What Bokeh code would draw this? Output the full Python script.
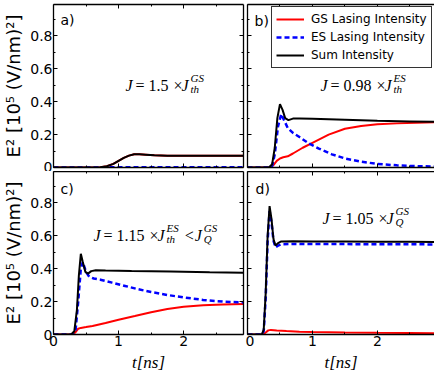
from bokeh.plotting import figure
from bokeh.models import LinearAxis, FixedTicker, Label, Legend, LegendItem, Range1d, CustomJSTickFormatter
from bokeh.layouts import gridplot
from bokeh.embed import file_html
from bokeh.resources import INLINE

# ---- time traces (t in ns, E^2 in 10^5 (V/nm)^2) ----
# a) J = 1.5 x J_th^GS
t_gs_a = [0, 0.60, 0.72, 0.82, 0.92, 1.00, 1.08, 1.16, 1.24, 1.32, 1.42, 1.55, 1.75, 2.0, 2.5, 2.92]
gs_a = [0, 0, 0.002, 0.008, 0.022, 0.040, 0.058, 0.072, 0.080, 0.081, 0.078, 0.074, 0.072, 0.072, 0.072, 0.072]
t_es_a = [0, 1.0, 2.0, 2.92]
es_a = [0, 0.001, 0.001, 0.001]
t_sum_a = t_gs_a
sum_a = [0, 0, 0.002, 0.008, 0.022, 0.040, 0.058, 0.072, 0.080, 0.081, 0.078, 0.074, 0.072, 0.072, 0.072, 0.072]

# b) J = 0.98 x J_th^ES
t_gs_b = [0, 0.35, 0.40, 0.45, 0.50, 0.55, 0.62, 0.70, 0.85, 1.0, 1.25, 1.5, 1.75, 2.0, 2.3, 2.6, 2.92]
gs_b = [0, 0, 0.015, 0.040, 0.055, 0.062, 0.068, 0.085, 0.120, 0.150, 0.200, 0.235, 0.252, 0.262, 0.268, 0.272, 0.275]
t_es_b = [0, 0.34, 0.38, 0.42, 0.47, 0.52, 0.56, 0.62, 0.70, 0.80, 0.95, 1.1, 1.3, 1.5, 1.75, 2.0, 2.3, 2.6, 2.92]
es_b = [0, 0, 0.010, 0.080, 0.250, 0.325, 0.290, 0.240, 0.210, 0.185, 0.145, 0.115, 0.080, 0.055, 0.035, 0.022, 0.013, 0.008, 0.006]
t_sum_b = [0, 0.33, 0.38, 0.42, 0.46, 0.50, 0.54, 0.58, 0.63, 0.70, 0.80, 1.0, 1.5, 2.0, 2.5, 2.92]
sum_b = [0, 0, 0.020, 0.120, 0.300, 0.385, 0.350, 0.300, 0.288, 0.297, 0.298, 0.296, 0.290, 0.284, 0.280, 0.277]

# c) J = 1.15 x J_th^ES < J_Q^GS
t_gs_c = [0, 0.30, 0.34, 0.38, 0.42, 0.50, 0.60, 0.80, 1.0, 1.25, 1.5, 1.75, 2.0, 2.3, 2.6, 2.92]
gs_c = [0, 0, 0.015, 0.035, 0.040, 0.045, 0.052, 0.070, 0.090, 0.112, 0.135, 0.155, 0.168, 0.177, 0.182, 0.185]
t_es_c = [0, 0.29, 0.34, 0.38, 0.42, 0.45, 0.50, 0.55, 0.62, 0.72, 0.90, 1.1, 1.3, 1.5, 1.75, 2.0, 2.3, 2.6, 2.92]
es_c = [0, 0, 0.030, 0.200, 0.400, 0.440, 0.380, 0.350, 0.340, 0.333, 0.315, 0.295, 0.275, 0.258, 0.240, 0.225, 0.210, 0.200, 0.195]
t_sum_c = [0, 0.27, 0.32, 0.36, 0.39, 0.42, 0.45, 0.49, 0.53, 0.58, 0.65, 0.80, 1.2, 1.8, 2.4, 2.92]
sum_c = [0, 0, 0.020, 0.150, 0.360, 0.490, 0.440, 0.380, 0.370, 0.385, 0.390, 0.388, 0.385, 0.382, 0.378, 0.375]

# d) J = 1.05 x J_Q^GS
t_gs_d = [0, 0.24, 0.28, 0.32, 0.36, 0.45, 0.60, 0.80, 1.0, 1.5, 2.0, 2.5, 2.88]
gs_d = [0, 0, 0.012, 0.025, 0.028, 0.025, 0.021, 0.017, 0.015, 0.012, 0.010, 0.009, 0.008]
t_es_d = [0, 0.22, 0.25, 0.28, 0.31, 0.34, 0.37, 0.40, 0.43, 0.47, 0.52, 0.70, 1.0, 1.5, 2.0, 2.5, 2.88]
es_d = [0, 0, 0.020, 0.220, 0.570, 0.750, 0.680, 0.570, 0.530, 0.540, 0.548, 0.550, 0.549, 0.549, 0.548, 0.548, 0.547]
t_sum_d = t_es_d
sum_d = [0, 0, 0.030, 0.250, 0.600, 0.780, 0.700, 0.580, 0.540, 0.555, 0.565, 0.566, 0.565, 0.565, 0.564, 0.563, 0.562]

x_ticks = [0, 1, 2]
x_minor = [0.5, 1.5, 2.5]
y_ticks = [0.0, 0.2, 0.4, 0.6, 0.8]
y_minor = [0.1, 0.3, 0.5, 0.7, 0.9]
y_max = 0.99

legend_labels = ["GS Lasing Intensity", "ES Lasing Intensity", "Sum Intensity"]

# Times-like advance widths (em) used to lay out the formula pieces
SERIF_W = {"0": 0.5, "1": 0.5, "2": 0.5, "3": 0.5, "4": 0.5, "5": 0.5,
           "6": 0.5, "7": 0.5, "8": 0.5, "9": 0.5, ".": 0.25}

FRAME_H = 163
BLANK = CustomJSTickFormatter(code="return ''")


def style_axis(ax, ticks, minor, labels, line=True):
    ax.ticker = FixedTicker(ticks=ticks, minor_ticks=minor)
    ax.major_tick_in = 4
    ax.major_tick_out = 0
    ax.minor_tick_in = 2
    ax.minor_tick_out = 0
    ax.major_tick_line_color = "black"
    ax.minor_tick_line_color = "black"
    ax.axis_line_color = "black" if line else None
    ax.axis_line_width = 1.3
    if labels:
        ax.major_label_text_font = "DejaVu Sans"
        ax.major_label_text_font_size = "14px"
        ax.major_label_text_color = "black"
        ax.major_label_standoff = 1
    else:
        ax.formatter = BLANK
        ax.major_label_text_font_size = "0px"
        ax.major_label_standoff = 0


def make_panel(x_end, frame_w, left_lab, bottom_lab, right_line, borders):
    bl, br, bt, bb = borders
    p = figure(frame_width=frame_w, frame_height=FRAME_H,
               x_range=Range1d(0, x_end), y_range=Range1d(0, y_max),
               x_axis_location=None, y_axis_location=None,
               output_backend="svg", toolbar_location=None,
               min_border_left=bl, min_border_right=br,
               min_border_top=bt, min_border_bottom=bb)
    p.outline_line_color = None
    p.grid.visible = False
    p.background_fill_color = "white"
    p.border_fill_color = "white"

    left = LinearAxis()
    style_axis(left, y_ticks, y_minor, left_lab)
    if left_lab:
        left.axis_label = "E² [10⁵ (V/nm)²]"
        left.axis_label_text_font = "DejaVu Sans"
        left.axis_label_text_font_size = "18px"
        left.axis_label_text_font_style = "normal"
        left.axis_label_text_color = "black"
        left.axis_label_standoff = 3
    p.add_layout(left, "left")

    bottom = LinearAxis()
    style_axis(bottom, x_ticks, x_minor, bottom_lab)
    if bottom_lab:
        bottom.axis_label = "t[ns]"
        bottom.axis_label_text_font = "Liberation Serif"
        bottom.axis_label_text_font_size = "17px"
        bottom.axis_label_text_font_style = "italic"
        bottom.axis_label_text_color = "black"
        bottom.axis_label_standoff = 4
    p.add_layout(bottom, "below")

    top = LinearAxis()
    style_axis(top, x_ticks, x_minor, False)
    p.add_layout(top, "above")

    if right_line:
        right = LinearAxis()
        style_axis(right, y_ticks, y_minor, False)
        p.add_layout(right, "right")
    return p


def draw_traces(p, tg, g, te, e, ts, s):
    rg = p.line(tg, g, line_color="#ff0000", line_width=2)
    re = p.line(te, e, line_color="#0000ff", line_width=2.5, line_dash="5 3")
    rs = p.line(ts, s, line_color="black", line_width=2)
    return rg, re, rs


def tag(p, text, x, y):
    p.add_layout(Label(x=x, y=y, x_units="screen", y_units="screen", text=text,
                       text_font="DejaVu Sans", text_font_size="14px",
                       text_color="black", text_baseline="alphabetic"))


def serif_label(p, text, x, y, size, style):
    p.add_layout(Label(x=x, y=y, x_units="screen", y_units="screen", text=text,
                       text_font="Liberation Serif", text_font_size=f"{size}px",
                       text_font_style=style, text_color="black",
                       text_baseline="alphabetic"))


def j_term(p, x, y, sup, sub):
    """Italic J with a superscript and a subscript; returns x after the term."""
    serif_label(p, "J", x, y, 16, "italic")
    serif_label(p, sup, x + 9, y + 8, 11, "italic")
    serif_label(p, sub, x + 9, y - 3, 11, "italic")
    return x + 9 + 0.6 * 11 * max(len(sup), len(sub))


def formula(p, x, y, number, terms):
    serif_label(p, "J", x, y, 16, "italic")
    serif_label(p, "=", x + 10, y, 16, "normal")
    serif_label(p, number, x + 23, y, 16, "normal")
    w = sum(SERIF_W[c] for c in number) * 16
    xt = x + 23 + w + 5
    serif_label(p, "×", xt, y, 16, "normal")
    xe = j_term(p, xt + 8, y, *terms[0])
    if len(terms) > 1:
        serif_label(p, "<", xe + 5, y, 16, "normal")
        j_term(p, xe + 15, y, *terms[1])


# layout: left frames 190 px, right frames 187 px at 65 px per ns
pa = make_panel(2.92, 190, True, False, True, (53, 2, 4, 4))
pb = make_panel(2.88, 187, False, False, False, (2, 0, 4, 4))
pc = make_panel(2.92, 190, True, True, True, (53, 2, 0, 37))
pd = make_panel(2.88, 187, False, True, False, (2, 0, 0, 37))

draw_traces(pa, t_gs_a, gs_a, t_es_a, es_a, t_sum_a, sum_a)
rg, re, rs = draw_traces(pb, t_gs_b, gs_b, t_es_b, es_b, t_sum_b, sum_b)
draw_traces(pc, t_gs_c, gs_c, t_es_c, es_c, t_sum_c, sum_c)
draw_traces(pd, t_gs_d, gs_d, t_es_d, es_d, t_sum_d, sum_d)

legend = Legend(items=[LegendItem(label=legend_labels[0], renderers=[rg]),
                       LegendItem(label=legend_labels[1], renderers=[re]),
                       LegendItem(label=legend_labels[2], renderers=[rs])],
                location=(24, 99), margin=0, padding=4, spacing=2,
                glyph_width=28, glyph_height=16, label_height=16,
                label_standoff=7, label_text_font="DejaVu Sans",
                label_text_font_size="12px", label_text_color="black",
                border_line_color="black", border_line_alpha=0.8,
                border_line_width=1, background_fill_color="white",
                background_fill_alpha=1.0)
pb.add_layout(legend)

tag(pa, "a)", 7, 148)
tag(pb, "b)", 7, 147)
tag(pc, "c)", 7, 146)
tag(pd, "d)", 8, 146)

formula(pa, 72, 82, "1.5", [("GS", "th")])
formula(pb, 73, 82, "0.98", [("ES", "th")])
formula(pc, 40, 99, "1.15", [("ES", "th"), ("GS", "Q")])
formula(pd, 75, 116, "1.05", [("GS", "Q")])

grid = gridplot([[pa, pb], [pc, pd]], toolbar_location=None)

open("out.html", "w").write(file_html(grid, INLINE))
